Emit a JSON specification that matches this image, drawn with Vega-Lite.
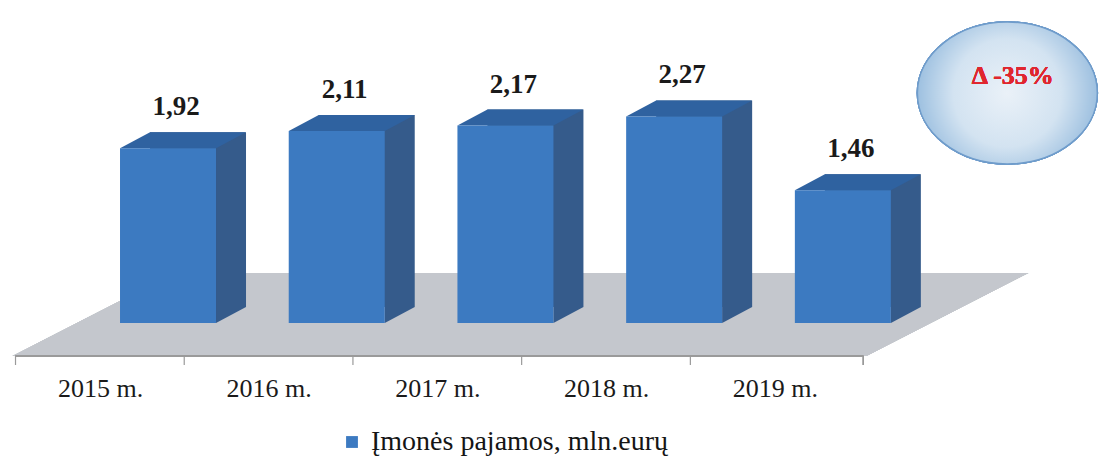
{
  "$schema": "https://vega.github.io/schema/vega-lite/v6.json",
  "width": 1107,
  "height": 462,
  "autosize": {"type": "fit", "contains": "padding"},
  "padding": 0,
  "background": "white",
  "config": {
    "view": {"stroke": null},
    "locale": {"number": {"decimal": ",", "thousands": " ", "grouping": [3], "currency": ["", " €"]}}
  },
  "data": {
    "values": [
      {"year": 2015, "period": "2015 m.", "value": 1.92, "series": "Įmonės pajamos, mln.eurų"},
      {"year": 2016, "period": "2016 m.", "value": 2.11, "series": "Įmonės pajamos, mln.eurų"},
      {"year": 2017, "period": "2017 m.", "value": 2.17, "series": "Įmonės pajamos, mln.eurų"},
      {"year": 2018, "period": "2018 m.", "value": 2.27, "series": "Įmonės pajamos, mln.eurų"},
      {"year": 2019, "period": "2019 m.", "value": 1.46, "series": "Įmonės pajamos, mln.eurų"}
    ]
  },
  "layer": [
    {
      "mark": {"type": "point", "shape": "M-493,33 L361,33 L523,-50 L-331,-50 Z", "size": 4, "filled": true, "opacity": 1, "strokeWidth": 0, "fill": "#C4C7CD"},
      "encoding": {
        "x": {"datum": 2017, "type": "quantitative", "scale": {"domain": [2014.03377, 2020.53597], "nice": false, "zero": false}, "axis": null},
        "y": {"datum": 0, "type": "quantitative", "scale": {"domain": [-1.5275, 3.5495], "nice": false, "zero": false}, "axis": null}
      }
    },
    {
      "mark": {"type": "rule", "color": "#9A9A9A", "strokeWidth": 1.5, "xOffset": -152.5, "x2Offset": 20.5, "yOffset": 33},
      "encoding": {
        "x": {"datum": 2015, "type": "quantitative", "scale": {"domain": [2014.03377, 2020.53597], "nice": false, "zero": false}, "axis": null},
        "x2": {"datum": 2019},
        "y": {"datum": 0, "type": "quantitative", "scale": {"domain": [-1.5275, 3.5495], "nice": false, "zero": false}, "axis": null}
      }
    },
    {
      "mark": {"type": "rule", "color": "#9A9A9A", "strokeWidth": 1.2, "xOffset": -152.5, "yOffset": 33, "y2Offset": 42},
      "encoding": {
        "x": {"field": "year", "type": "quantitative", "scale": {"domain": [2014.03377, 2020.53597], "nice": false, "zero": false}, "axis": null},
        "y": {"datum": 0, "type": "quantitative", "scale": {"domain": [-1.5275, 3.5495], "nice": false, "zero": false}, "axis": null},
        "y2": {"datum": 0}
      }
    },
    {
      "mark": {"type": "rule", "color": "#9A9A9A", "strokeWidth": 1.2, "xOffset": 20.5, "yOffset": 33, "y2Offset": 42},
      "encoding": {
        "x": {"datum": 2019, "type": "quantitative", "scale": {"domain": [2014.03377, 2020.53597], "nice": false, "zero": false}, "axis": null},
        "y": {"datum": 0, "type": "quantitative", "scale": {"domain": [-1.5275, 3.5495], "nice": false, "zero": false}, "axis": null},
        "y2": {"datum": 0}
      }
    },
    {
      "mark": {"type": "bar", "orient": "vertical", "width": 96, "color": "#355B8B", "xOffset": 30, "yOffset": -16, "y2Offset": -16},
      "encoding": {
        "x": {"field": "year", "type": "quantitative", "scale": {"domain": [2014.03377, 2020.53597], "nice": false, "zero": false}, "axis": null},
        "y": {"field": "value", "type": "quantitative", "scale": {"domain": [-1.5275, 3.5495], "nice": false, "zero": false}, "axis": null},
        "y2": {"datum": 0}
      }
    },
    {
      "mark": {"type": "point", "shape": "M48,0 L48,-16 L78,-16 Z", "size": 4, "filled": true, "opacity": 1, "strokeWidth": 0, "fill": "#355B8B"},
      "encoding": {
        "x": {"field": "year", "type": "quantitative", "scale": {"domain": [2014.03377, 2020.53597], "nice": false, "zero": false}, "axis": null},
        "y": {"datum": 0, "type": "quantitative", "scale": {"domain": [-1.5275, 3.5495], "nice": false, "zero": false}, "axis": null}
      }
    },
    {
      "mark": {"type": "point", "shape": "M-48,0 L48,0 L78,-16 L-18,-16 Z", "size": 4, "filled": true, "opacity": 1, "strokeWidth": 0, "fill": "#2F62A0"},
      "encoding": {
        "x": {"field": "year", "type": "quantitative", "scale": {"domain": [2014.03377, 2020.53597], "nice": false, "zero": false}, "axis": null},
        "y": {"field": "value", "type": "quantitative", "scale": {"domain": [-1.5275, 3.5495], "nice": false, "zero": false}, "axis": null}
      }
    },
    {
      "mark": {"type": "bar", "orient": "vertical", "width": 96},
      "encoding": {
        "x": {"field": "year", "type": "quantitative", "scale": {"domain": [2014.03377, 2020.53597], "nice": false, "zero": false}, "axis": null},
        "y": {"field": "value", "type": "quantitative", "scale": {"domain": [-1.5275, 3.5495], "nice": false, "zero": false}, "axis": null},
        "y2": {"datum": 0},
        "color": {
          "field": "series", "type": "nominal",
          "scale": {"range": ["#3C7AC1"]},
          "legend": {
            "title": null, "orient": "none", "legendX": 338, "legendY": 428,
            "padding": 0, "symbolType": "square", "symbolSize": 140, "symbolStrokeWidth": 0,
            "labelFont": "Liberation Serif", "labelFontSize": 28, "labelColor": "#151515",
            "labelOffset": 5, "labelLimit": 0
          }
        }
      }
    },
    {
      "mark": {"type": "text", "font": "Liberation Serif", "fontWeight": "bold", "fontSize": 27, "color": "#1A1A1A", "align": "center", "baseline": "alphabetic", "dx": 8, "dy": -33},
      "encoding": {
        "x": {"field": "year", "type": "quantitative", "scale": {"domain": [2014.03377, 2020.53597], "nice": false, "zero": false}, "axis": null},
        "y": {"field": "value", "type": "quantitative", "scale": {"domain": [-1.5275, 3.5495], "nice": false, "zero": false}, "axis": null},
        "text": {"field": "value", "type": "quantitative", "format": ".2f"}
      }
    },
    {
      "mark": {"type": "text", "font": "Liberation Serif", "fontSize": 26, "color": "#1A1A1A", "align": "center", "baseline": "alphabetic", "dx": -67.5, "dy": 74},
      "encoding": {
        "x": {"field": "year", "type": "quantitative", "scale": {"domain": [2014.03377, 2020.53597], "nice": false, "zero": false}, "axis": null},
        "y": {"datum": 0, "type": "quantitative", "scale": {"domain": [-1.5275, 3.5495], "nice": false, "zero": false}, "axis": null},
        "text": {"field": "period", "type": "nominal"}
      }
    },
    {
      "mark": {
        "type": "point", "shape": "M-90,0 A90,71 0 1,1 90,0 A90,71 0 1,1 -90,0 Z", "size": 4, "filled": true, "opacity": 1,
        "fill": {"gradient": "radial", "stops": [{"offset": 0, "color": "#EAF1F8"}, {"offset": 0.6, "color": "#D3E3F1"}, {"offset": 1, "color": "#9DC0E0"}]},
        "stroke": "#6F9CCB", "strokeWidth": 1.5, "xOffset": 164.5, "yOffset": -230
      },
      "encoding": {
        "x": {"datum": 2019, "type": "quantitative", "scale": {"domain": [2014.03377, 2020.53597], "nice": false, "zero": false}, "axis": null},
        "y": {"datum": 0, "type": "quantitative", "scale": {"domain": [-1.5275, 3.5495], "nice": false, "zero": false}, "axis": null}
      }
    },
    {
      "mark": {"type": "text", "text": "Δ -35%", "font": "Liberation Serif", "fontWeight": "bold", "fontSize": 26, "color": "#E0262E", "align": "center", "baseline": "alphabetic", "dx": 170, "dy": -239},
      "encoding": {
        "x": {"datum": 2019, "type": "quantitative", "scale": {"domain": [2014.03377, 2020.53597], "nice": false, "zero": false}, "axis": null},
        "y": {"datum": 0, "type": "quantitative", "scale": {"domain": [-1.5275, 3.5495], "nice": false, "zero": false}, "axis": null}
      }
    }
  ]
}
